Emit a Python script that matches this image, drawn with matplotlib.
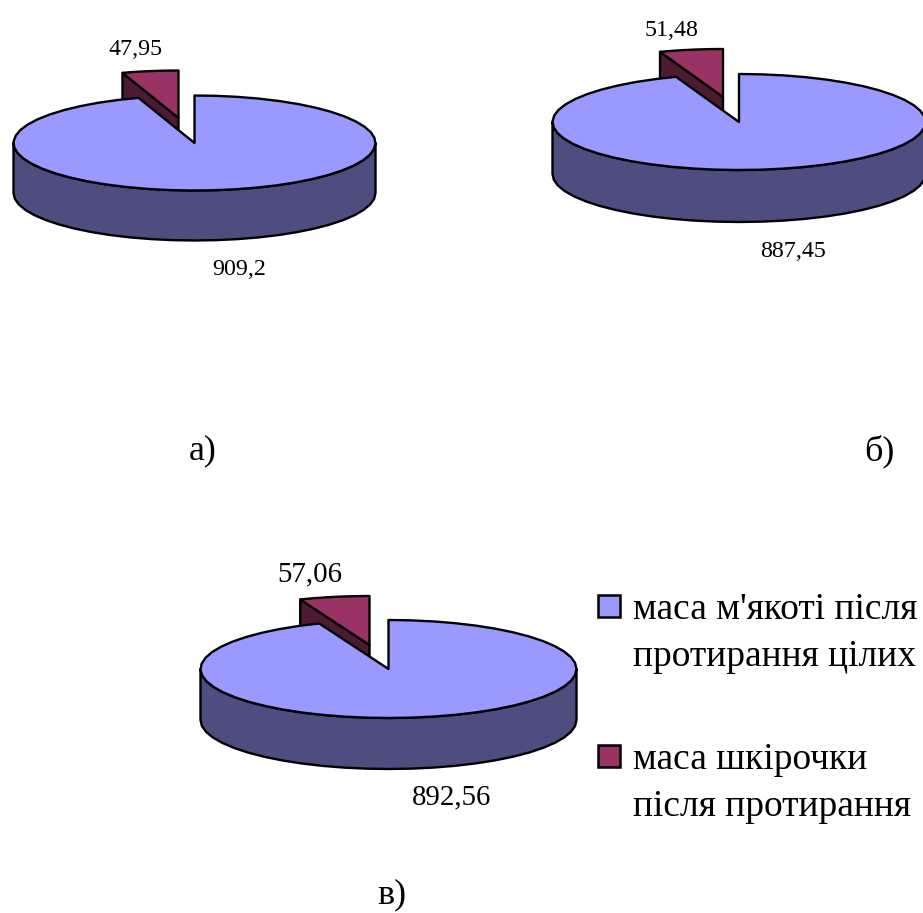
import numpy as np
import matplotlib
matplotlib.use("Agg")
import matplotlib.pyplot as plt
from matplotlib.patches import Polygon, Rectangle

plt.rcParams['font.family'] = ['Liberation Serif', 'DejaVu Serif']

# Mass balance for each sample
pulp_mass = [909.2, 887.45, 892.56]
skin_mass = [47.95, 51.48, 57.06]
pulp_labels = ['909,2', '887,45', '892,56']
skin_labels = ['47,95', '51,48', '57,06']
panel_names = ['а)', 'б)', 'в)']
series_names = [["маса м'якоті після", "протирання цілих"],
                ["маса шкірочки", "після протирання"]]

PULP_TOP, PULP_SIDE = '#9999FF', '#4D4D80'
SKIN_TOP, SKIN_SIDE = '#993366', '#4D1A33'

# Layout of each pie in pixels: centre, radii, rim depth, offset of the pulled-out slice
layouts = [
    dict(cx=194.5, cy=143, rx=181, ry=47.5, depth=50, dx=-16, dy=-25, size=17.3,
         pulp_xy=(239, 275), skin_xy=(136, 55), name_xy=(203, 451)),
    dict(cx=739, cy=122, rx=186.5, ry=48, depth=52, dx=-16, dy=-25, size=17.3,
         pulp_xy=(793, 257), skin_xy=(672, 36), name_xy=(879, 451)),
    dict(cx=388.5, cy=669, rx=188, ry=49, depth=51, dx=-19, dy=-24, size=20.8,
         pulp_xy=(452, 804), skin_xy=(310, 581), name_xy=(392, 895)),
]

# Legend layout in pixels
swatch_x, swatch_size = 598, 22
swatch_tops = [595, 745]
text_x = 633
text_baselines = [[619, 666], [769, 816]]


def sector(cx, cy, rx, ry, a0, a1, n):
    # Clockwise angles from 12 o'clock, projected onto the tilted disc
    t = np.linspace(a0, a1, n)
    return np.column_stack([cx + rx * np.sin(t), cy - ry * np.cos(t)])


def draw_pie(ax, pulp, skin, g):
    cx, cy, rx, ry, h = g['cx'], g['cy'], g['rx'], g['ry'], g['depth']
    split = 2 * np.pi * pulp / (pulp + skin)
    edge = dict(edgecolor='black', linewidth=1.7, joinstyle='round')

    # Pulled-out slice goes first so the large disc overlaps its rim
    sx, sy = cx + g['dx'], cy + g['dy']
    arc = sector(sx, sy, rx, ry, split, 2 * np.pi, 6)
    ax.add_patch(Polygon([arc[0], (sx, sy), (sx, sy + h), arc[0] + (0, h)],
                         facecolor=SKIN_SIDE, **edge))
    ax.add_patch(Polygon(np.vstack([[(sx, sy)], arc]), facecolor=SKIN_TOP, **edge))

    # Rim of the large slice: the front half of the disc, dropped by the depth
    front = sector(cx, cy, rx, ry, np.pi / 2, 3 * np.pi / 2, 27)
    ax.add_patch(Polygon(np.vstack([front, (front + (0, h))[::-1]]),
                         facecolor=PULP_SIDE, **edge))
    top = sector(cx, cy, rx, ry, 0, split, 50)
    ax.add_patch(Polygon(np.vstack([[(cx, cy)], top]), facecolor=PULP_TOP, **edge))


fig = plt.figure(figsize=(9.23, 9.13), dpi=100, facecolor='white')
ax = fig.add_axes([0, 0, 1, 1])
ax.set_xlim(0, 923)
ax.set_ylim(913, 0)
ax.axis('off')

for pulp, skin, pl, sl, nm, g in zip(pulp_mass, skin_mass, pulp_labels, skin_labels, panel_names, layouts):
    draw_pie(ax, pulp, skin, g)
    ax.text(*g['pulp_xy'], pl, fontsize=g['size'], ha='center', va='baseline', color='black')
    ax.text(*g['skin_xy'], sl, fontsize=g['size'], ha='center', va='baseline', color='black')
    ax.text(*g['name_xy'], nm, fontsize=26, ha='center', va='center', color='black')

# Legend: swatch beside the first line of each two-line entry
for colour, top, lines, baselines in zip([PULP_TOP, SKIN_TOP], swatch_tops, series_names, text_baselines):
    ax.add_patch(Rectangle((swatch_x, top), swatch_size, swatch_size,
                           facecolor=colour, edgecolor='black', linewidth=1.8))
    for line, y in zip(lines, baselines):
        ax.text(text_x, y, line, fontsize=27, ha='left', va='baseline', color='black')

fig.savefig('out.png', dpi=100)
